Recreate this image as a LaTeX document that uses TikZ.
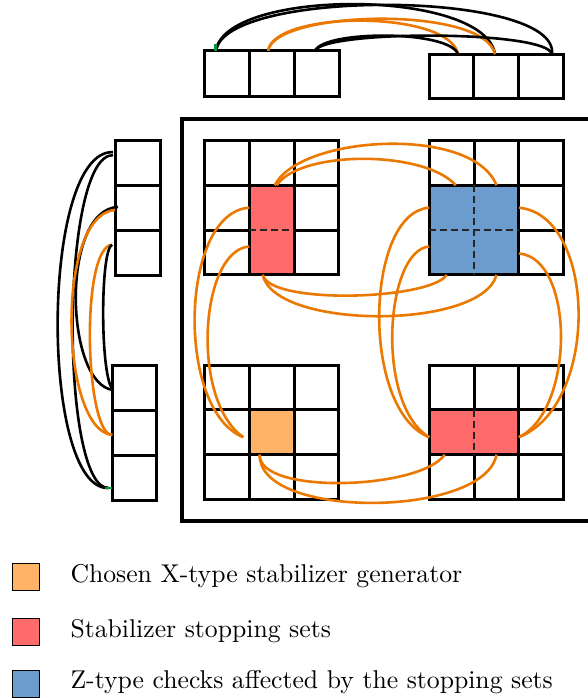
\documentclass[tikz,border=0pt]{standalone}
\usetikzlibrary{calc}
\definecolor{curveorange}{RGB}{235,120,0}
\definecolor{stopred}{RGB}{255,107,107}
\definecolor{checkblue}{RGB}{108,155,205}
\definecolor{chosenorange}{RGB}{255,179,102}
\definecolor{tickgreen}{RGB}{0,150,60}
\tikzset{
  cell/.style={draw, line width=3pt, inner sep=0pt, outer sep=0pt},
  gridcell/.style={cell, minimum size=44.8pt},
  region/.style={draw, line width=3pt},
  innerdash/.style={line width=1.4pt, black!85, dash pattern=on 7pt off 4pt},
  oconn/.style={line width=2.6pt, curveorange},
  bconn/.style={line width=2.6pt, black},
  tick/.style={line width=2.6pt, tickgreen},
  legbox/.style={draw, line width=0.8pt, minimum size=27pt, inner sep=0pt},
  legtext/.style={anchor=base west, scale=2.57, inner sep=0pt},
}
\begin{document}
\begin{tikzpicture}[x=1pt, y=-1pt]
\useasboundingbox (0,0) rectangle (587,698);

% outer frame around the four 3x3 blocks
\draw[line width=4.5pt] (182,119) rectangle (600,521);

% four 3x3 grids
\foreach \g/\gx/\gy in {ga/204.5/140.5, gb/429.3/140.5, gc/204.5/365, gd/429.3/365}
  \foreach \r in {1,2,3}
    \foreach \c in {1,2,3}
      \node[gridcell] (\g\r\c) at ({\gx+(\c-0.5)*44.8}, {\gy+(\r-0.5)*44.8}) {};

% top row of cells
\foreach \i in {1,2,3} {
  \node[cell, minimum width=45pt, minimum height=46pt] (ta\i) at ({204+(\i-0.5)*45}, 73.7) {};
  \node[cell, minimum width=44.67pt, minimum height=44.7pt] (tb\i) at ({429.3+(\i-0.5)*44.67}, 76.65) {};
}
% left column of cells
\foreach \i in {1,2,3} {
  \node[cell, minimum width=45pt, minimum height=44.8pt] (la\i) at (137.5, {140.7+(\i-0.5)*44.8}) {};
  \node[cell, minimum width=44.4pt, minimum height=45pt] (lb\i) at (134.5, {365+(\i-0.5)*45}) {};
}

% highlighted regions
\draw[region, fill=stopred] (ga22.north west) rectangle (ga32.south east);
\draw[innerdash] (ga22.south west) -- (ga22.south east);
\draw[region, fill=checkblue] (gb21.north west) rectangle (gb32.south east);
\draw[innerdash] (gb21.south west) -- (gb22.south east);
\draw[innerdash] (gb21.north east) -- (gb31.south east);
\draw[region, fill=chosenorange] (gc22.north west) rectangle (gc22.south east);
\draw[region, fill=stopred] (gd21.north west) rectangle (gd22.south east);
\draw[innerdash] (gd21.north east) -- (gd21.south east);

% connections between the grids
\draw[oconn] ([shift={(3,0)}]ga22.north) .. controls (300,135) and (473,125) .. (gb22.north);
\draw[oconn] ([shift={(5,0)}]ga22.north) .. controls (300,150) and (425,150) .. ([shift={(4,0)}]gb21.north);
\draw[oconn] ([shift={(-9,0)}]ga32.south) .. controls (270,305) and (430,300) .. ([shift={(-5,0)}]gb31.south);
\draw[oconn] ([shift={(-9,0)}]ga32.south) .. controls (275,330) and (482,330) .. (gb32.south);
\draw[oconn] (ga22.west) .. controls (180,212) and (175,410) .. ([shift={(-6,5)}]gc22.west);
\draw[oconn] ([shift={(0,-6)}]ga32.west) .. controls (200,250) and (190,400) .. ([shift={(-6,5)}]gc22.west);
\draw[oconn] (gb21.west) .. controls (365,212) and (360,410) .. ([shift={(0,5)}]gd21.west);
\draw[oconn] ([shift={(0,-6)}]gb31.west) .. controls (385,250) and (375,405) .. ([shift={(0,5)}]gd21.west);
\draw[oconn] (gb23.west) .. controls (597,215) and (600,405) .. ([shift={(0,5)}]gd23.west);
\draw[oconn] ([shift={(0,1)}]gb33.west) .. controls (575,258) and (575,410) .. ([shift={(0,5)}]gd23.west);
\draw[oconn] ([shift={(-12,0)}]gc22.south) .. controls (258,495) and (420,490) .. ([shift={(-7,0)}]gd21.south);
\draw[oconn] ([shift={(-12,0)}]gc22.south) .. controls (258,520) and (485,518) .. (gd22.south);

% connections along the top row
\draw[bconn] ([shift={(-10.5,0)}]ta1.north) .. controls (225,-12) and (485,-12) .. ([shift={(-1.3,0)}]tb2.north);
\draw[bconn] ([shift={(-10.5,0)}]ta1.north) .. controls (225,-12) and (560,-10) .. ([shift={(11,0)}]tb3.north);
\draw[oconn] ([shift={(-3.5,0)}]ta2.north) .. controls (275,10) and (450,10) .. ([shift={(6.4,0)}]tb1.north);
\draw[oconn] ([shift={(-3.5,0)}]ta2.north) .. controls (275,10) and (485,5) .. ([shift={(-1.3,0)}]tb2.north);
\draw[bconn] ([shift={(-1.5,0)}]ta3.north) .. controls (325,30) and (450,30) .. ([shift={(6.4,0)}]tb1.north);
\draw[bconn] ([shift={(-1.5,0)}]ta3.north) .. controls (325,30) and (548,30) .. ([shift={(11,0)}]tb3.north);

% connections along the left column
\draw[bconn] ([shift={(-2,-11)}]la1.west) .. controls (40,150) and (40,490) .. ([shift={(-4,10.5)}]lb3.west);
\draw[bconn] ([shift={(-2,-8)}]la1.west) .. controls (60,155) and (60,488) .. ([shift={(-4,10.5)}]lb3.west);
\draw[bconn] ([shift={(3,-1)}]la2.west) .. controls (60,210) and (65,385) .. ([shift={(1,2.5)}]lb1.west);
\draw[oconn] ([shift={(0,2)}]la2.west) .. controls (55,215) and (60,430) .. ([shift={(0,2.5)}]lb2.west);
\draw[oconn] ([shift={(-3,-8)}]la3.west) .. controls (80,248) and (85,435) .. ([shift={(0,2.5)}]lb2.west);
\draw[bconn] ([shift={(-3,-8)}]la3.west) .. controls (100,250) and (100,380) .. ([shift={(1,2.5)}]lb1.west);

% small end marks
\draw[tick] ([shift={(-11,-7)}]ta1.north) -- ([shift={(-11,0)}]ta1.north);
\draw[tick] ([shift={(-7,10.5)}]lb3.west) -- ([shift={(0,10.5)}]lb3.west);

% legend
\node[legbox, fill=chosenorange] (k1) at (25.5,576.5) {};
\node[legbox, fill=stopred] (k2) at (25.5,631.5) {};
\node[legbox, fill=checkblue] (k3) at (25.5,683.5) {};
\node[legtext] (d1) at (70,582) {Chosen X-type stabilizer generator};
\node[legtext] (d2) at (70,637) {Stabilizer stopping sets};
\node[legtext] (d3) at (70,688) {Z-type checks affected by the stopping sets};
\end{tikzpicture}
\end{document}
